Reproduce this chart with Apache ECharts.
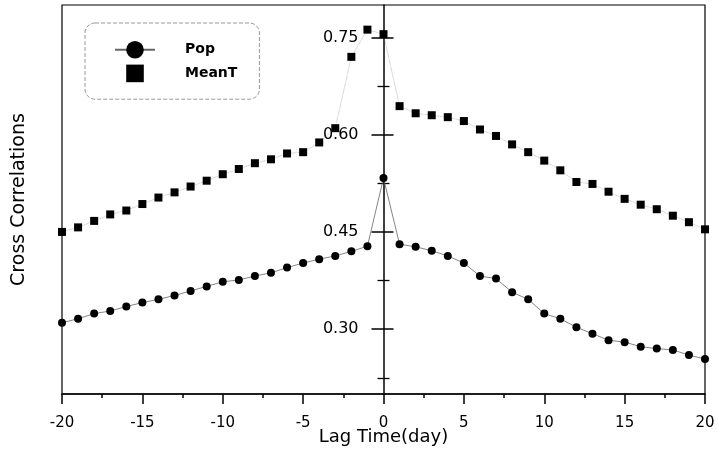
<!DOCTYPE html>
<html>
<head>
<meta charset="utf-8">
<script src="https://cdn.jsdelivr.net/npm/echarts@6/dist/echarts.min.js"></script>
<style>html,body{margin:0;padding:0;background:#fff}#c{width:718px;height:458px}</style>
</head>
<body>
<div id="c"></div>
<script>
var lags = [-20,-19,-18,-17,-16,-15,-14,-13,-12,-11,-10,-9,-8,-7,-6,-5,-4,-3,-2,-1,0,1,2,3,4,5,6,7,8,9,10,11,12,13,14,15,16,17,18,19,20];
var popValues = [0.310,0.316,0.324,0.328,0.335,0.341,0.346,0.352,0.359,0.366,0.373,0.376,0.382,0.387,0.395,0.402,0.408,0.413,0.420,0.428,
  0.533,
  0.431,0.427,0.421,0.413,0.402,0.382,0.378,0.357,0.346,0.324,0.316,0.303,0.293,0.283,0.280,0.273,0.270,0.268,0.260,0.254];
var meanTValues = [0.450,0.457,0.467,0.477,0.483,0.493,0.503,0.511,0.520,0.529,0.539,0.547,0.556,0.562,0.571,0.573,0.588,0.610,0.720,0.762,
  0.755,
  0.644,0.633,0.630,0.627,0.621,0.608,0.598,0.585,0.573,0.560,0.545,0.527,0.524,0.512,0.501,0.492,0.485,0.475,0.465,0.454];
var yMajorTicks = [0.30,0.45,0.60,0.75];
var yMinorTicks = [0.225,0.375,0.525,0.675];
var seriesNames = ['Pop','MeanT'];

function pairs(v){ return lags.map(function(l,i){ return [l, v[i]]; }); }

var FONT = '"DejaVu Sans", sans-serif';
var chart = echarts.init(document.getElementById('c'), null, {renderer:'canvas'});

var G = {left:62, right:13, top:5, bottom:64};
var W = 718, H = 458;
var zeroX = G.left + (W - G.left - G.right) / 2; // pixel of lag 0

function midAx(extra){
  var base = {
    gridIndex:1, type:'value', min:0.2, max:0.8, position:'right',
    axisLine:{show:false},
    axisTick:{show:false},
    axisLabel:{show:false},
    splitLine:{show:false}
  };
  return Object.assign(base, extra);
}

chart.setOption({
  animation:false,
  backgroundColor:'#fff',
  grid:[
    {left:G.left, right:G.right, top:G.top, bottom:G.bottom, containLabel:false, outerBoundsMode:'none',
     show:true, borderColor:'#000', borderWidth:1.2, backgroundColor:'transparent'},
    {left:G.left, right:W - zeroX, top:G.top, bottom:G.bottom, containLabel:false, outerBoundsMode:'none', show:false}
  ],
  legend:{
    left:85, top:23, orient:'vertical',
    itemWidth:40, itemHeight:22, itemGap:6,
    padding:[18,22,17,29],
    borderColor:'#999', borderWidth:1, borderRadius:10, borderType:'dashed',
    textStyle:{fontFamily:FONT, fontSize:14, fontWeight:'bold', color:'#000', padding:[0,0,0,25]},
    data:[{name:'Pop'},{name:'MeanT', lineStyle:{opacity:0}}]
  },
  xAxis:[
    {
      gridIndex:0, type:'value', min:-20, max:20, interval:5,
      name:'Lag Time(day)', nameLocation:'middle', nameGap:34, nameMoveOverlap:false,
      nameTextStyle:{fontFamily:FONT, fontSize:18, color:'#000'},
      axisLine:{onZero:false, lineStyle:{color:'#000', width:1.5}},
      axisTick:{show:true, length:10, lineStyle:{color:'#000', width:1.5}},
      minorTick:{show:true, splitNumber:2, length:4, lineStyle:{color:'#000', width:1.5}},
      axisLabel:{fontFamily:FONT, fontSize:15, color:'#000', margin:22},
      splitLine:{show:false}
    },
    {gridIndex:1, type:'value', min:-20, max:0, show:false}
  ],
  yAxis:[
    {
      gridIndex:0, type:'value', min:0.2, max:0.8, position:'left',
      name:'Cross Correlations', nameLocation:'middle', nameGap:33, nameRotate:90, nameMoveOverlap:false,
      nameTextStyle:{fontFamily:FONT, fontSize:19, color:'#000'},
      axisLine:{show:false}, axisTick:{show:false}, axisLabel:{show:false}, splitLine:{show:false}
    },
    midAx({
      axisLine:{show:true, onZero:false, lineStyle:{color:'#000', width:1.5}},
      axisTick:{show:true, inside:false, length:10, customValues:yMajorTicks, lineStyle:{color:'#000', width:1.5}},
      axisLabel:{show:true, inside:true, customValues:yMajorTicks, margin:25, fontFamily:FONT, fontSize:16, color:'#000',
        formatter:function(v){ return v.toFixed(2); }}
    }),
    midAx({ axisTick:{show:true, inside:true, length:12, customValues:yMajorTicks, lineStyle:{color:'#000', width:1.5}} }),
    midAx({ axisTick:{show:true, inside:false, length:6, customValues:yMinorTicks, lineStyle:{color:'#000', width:1.3}} }),
    midAx({ axisTick:{show:true, inside:true, length:6, customValues:yMinorTicks, lineStyle:{color:'#000', width:1.3}} })
  ],
  series:[
    {name:seriesNames[0], type:'line', xAxisIndex:0, yAxisIndex:0, data:pairs(popValues), symbol:'circle', symbolSize:8,
     itemStyle:{color:'#000'}, lineStyle:{color:'#666', width:0.8}, z:5},
    {name:seriesNames[1], type:'line', xAxisIndex:0, yAxisIndex:0, data:pairs(meanTValues), symbol:'rect', symbolSize:8,
     itemStyle:{color:'#000'}, lineStyle:{color:'#888', width:0.6, type:'dotted'}, z:5}
  ]
});
</script>
</body>
</html>
